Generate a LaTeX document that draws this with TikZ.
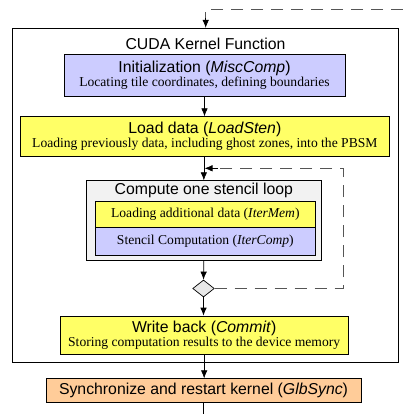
\documentclass[tikz,border=0pt]{standalone}
\usepackage{fontspec}
\setmainfont{Liberation Serif}
\setsansfont{Liberation Sans}
\usetikzlibrary{arrows.meta,shapes.geometric}
\definecolor{lav}{HTML}{CCCCFF}
\definecolor{yel}{HTML}{FFFF66}
\definecolor{peach}{HTML}{FFCC99}
\definecolor{boxgray}{HTML}{F2F2F2}
\definecolor{diagray}{HTML}{E8E8E8}
\definecolor{dashgray}{HTML}{555555}
\tikzset{
  stage/.style={draw=black, line width=0.7pt, inner sep=0pt, align=center},
  arr/.style={line width=0.7pt, -{Latex[length=8pt,width=6.5pt]}},
  loopline/.style={draw=dashgray, line width=1.2pt, dash pattern=on 12pt off 8pt},
  headtext/.style={font=\sffamily\fontsize{15.8}{18}\selectfont},
}
\newcommand{\hd}[1]{{\sffamily\fontsize{15.8}{18}\selectfont #1}}
\newcommand{\sbt}[1]{{\rmfamily\fontsize{13.6}{15}\selectfont #1}}
\begin{document}
\begin{tikzpicture}[x=1pt,y=-1pt]
\useasboundingbox (0,0) rectangle (403,414);
% outer kernel box
\node[draw=black, line width=0.9pt, minimum width=385.6pt, minimum height=334.4pt, inner sep=0pt] (outer) at (205.5,195.5) {};
\node[headtext, anchor=center] (title) at (205.5,43.7) {CUDA Kernel Function};
% init
\node[stage, fill=lav, minimum width=281pt, minimum height=42.4pt] (init) at (204.5,75.5)
  {\hd{Initialization (\textit{MiscComp})}\\\sbt{Locating tile coordinates, defining boundaries}};
% load
\node[stage, fill=yel, minimum width=368.3pt, minimum height=39.3pt] (load) at (204.85,136.35)
  {\hd{Load data (\textit{LoadSten})}\\\sbt{Loading previously data, including ghost zones, into the PBSM}};
% compute
\node[stage, fill=boxgray, minimum width=234.3pt, minimum height=79.3pt] (comp) at (203.85,220.35) {};
\node[headtext] (comptitle) at (203.85,190.3) {Compute one stencil loop};
\node[stage, fill=yel, minimum width=219.3pt, minimum height=26.7pt] (itermem) at (205.35,214.35)
  {\sbt{Loading additional data (\textit{IterMem})}};
\node[stage, fill=lav, minimum width=219.3pt, minimum height=27.3pt] (itercomp) at (205.35,241.35)
  {\sbt{Stencil Computation (\textit{IterComp})}};
% diamond
\node[draw=black, line width=0.7pt, fill=diagray, diamond, inner sep=0pt, minimum width=21.6pt, minimum height=17pt] (dec) at (203.5,288.5) {};
% write back
\node[stage, fill=yel, minimum width=288.3pt, minimum height=38pt] (write) at (204.15,335)
  {\hd{Write back (\textit{Commit})}\\\sbt{Storing computation results to the device memory}};
% sync
\node[stage, fill=peach, minimum width=315pt, minimum height=24pt] (sync) at (203.5,390.7)
  {\hd{Synchronize and restart kernel (\textit{GlbSync})}};
% coordinates
\coordinate (topstart) at (403,9.7);
\coordinate (topcorner) at (205.7,9.7);
\coordinate (loopright) at (343.3,288.5);
\coordinate (looptop) at (343.3,168.3);
\coordinate (loopend) at (204.5,168.3);
\coordinate (bottomend) at (203.5,414);
% connectors
\draw[loopline] (topstart) -- (topcorner) -- (205.7,20);
\draw[arr] (205.7,18) -- (topcorner |- outer.north);
\draw[arr] (init.south) -- (init.south |- load.north);
\draw[arr] (load.south -| comp.north) -- (comp.north);
\draw[loopline] (dec.east) -- (loopright) -- (looptop) -- (218,168.3);
\draw[arr] (218,168.3) -- (loopend);
\draw[arr] (comp.south) -- (dec.north);
\draw[arr] (dec.south) -- (dec.south |- write.north);
\draw[arr] (write.south) -- (write.south |- sync.north);
\draw[line width=0.7pt] (sync.south) -- (bottomend);
\end{tikzpicture}
\end{document}
